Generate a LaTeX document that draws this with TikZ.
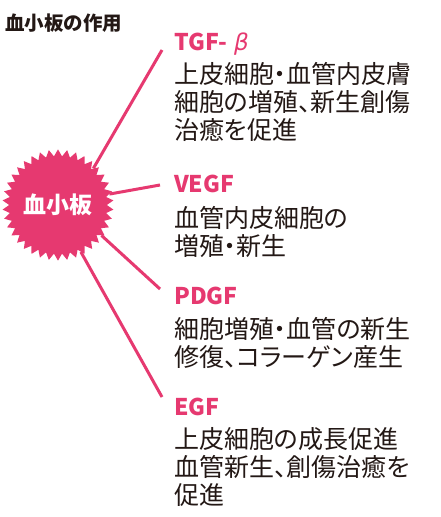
\documentclass[tikz,border=0pt]{standalone}
\usepackage{fontspec}
\setmainfont{Noto Sans CJK JP}
\newfontfamily\bodyfont[RawFeature=+palt]{Noto Sans CJK JP}
\newfontfamily\grkfont[FakeSlant=0.2]{DejaVu Sans}
\usetikzlibrary{positioning,shapes.geometric}
\definecolor{plpink}{RGB}{230,57,112}
\definecolor{ink}{RGB}{35,24,21}

\begin{document}
\begin{tikzpicture}[
        x=1pt, y=-1pt,
        burst/.style={
            star, star points=38, star point ratio=1.14,
            minimum size=108pt, inner sep=0pt,
            fill=plpink, text=white,
            font=\bfseries\fontsize{23}{23}\selectfont
        },
        factor/.style={
            anchor=north west, inner sep=0pt, text=plpink,
            font=\bfseries\fontsize{23}{23}\selectfont
        },
        effect/.style={
            anchor=north west, inner sep=0pt, align=left, text=ink,
            font=\bodyfont\fontsize{25}{28}\selectfont
        },
        spoke/.style={draw=plpink, line width=3pt}
        ]

        % --- Frame ---
        \useasboundingbox[fill=white] (0,0) rectangle (440,517);
        \def\tx{174}

        % --- Title ---
        \node[anchor=north west, inner sep=0pt, text=ink,
              font=\bfseries\fontsize{19.5}{19.5}\selectfont] (title) at (5,14)
        {血小板の作用};

        % --- Platelet ---
        \node[burst] (plt) at (58,205) {血小板};

        % --- Growth factors ---
        \node[factor] (tgf) at (\tx,33) {TGF- {\grkfont\mdseries β}};
        \node[effect] (tgftxt) at (\tx,62)
        {上皮細胞・血管内皮膚\\細胞の増殖、新生創傷\\治癒を促進};

        \node[factor] (vegf) at (\tx,175) {VEGF};
        \node[effect] (vegftxt) at (\tx,206)
        {血管内皮細胞の\\増殖・新生};

        \node[factor] (pdgf) at (\tx,287) {PDGF};
        \node[effect] (pdgftxt) at (\tx,317)
        {細胞増殖・血管の新生\\修復、コラーゲン産生};

        \node[factor] (egf) at (\tx,398) {EGF};
        \node[effect] (egftxt) at (\tx,427)
        {上皮細胞の成長促進\\血管新生、創傷治癒を\\促進};

        % --- Spokes ---
        \coordinate (tgfend) at (162,50);
        \coordinate (vegfend) at (160,185);
        \coordinate (pdgfend) at (160,289);
        \coordinate (egfend) at (162,397);
        \draw[spoke] (plt.46) -- (tgfend);
        \draw[spoke] (plt.12) -- (vegfend);
        \draw[spoke] (plt.-35) -- (pdgfend);
        \draw[spoke] (plt.-64) -- (egfend);

    \end{tikzpicture}
\end{document}
